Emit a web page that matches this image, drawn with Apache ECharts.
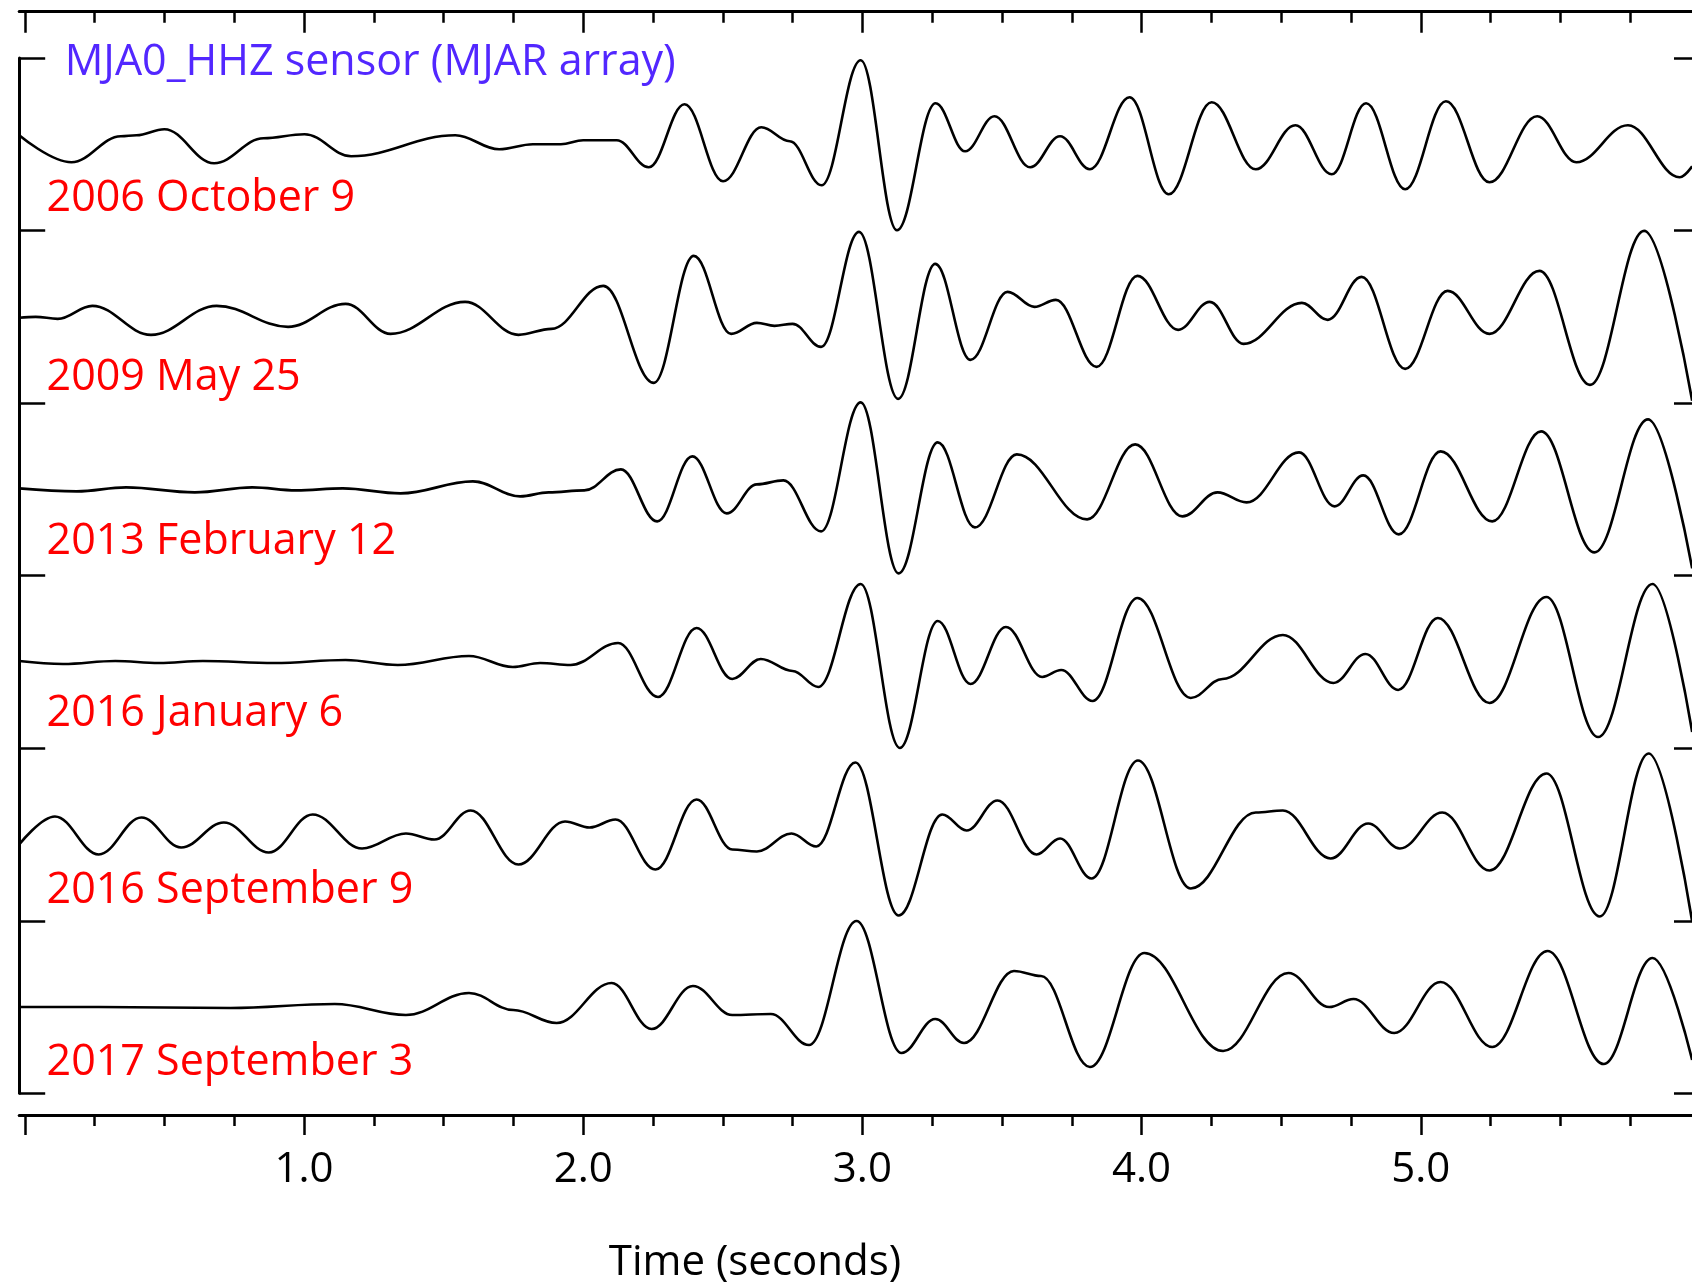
<!DOCTYPE html>
<html>
<head>
<meta charset="utf-8">
<script src="https://cdn.jsdelivr.net/npm/echarts@6/dist/echarts.min.js"></script>
<style>
html,body{margin:0;padding:0;background:#fff;}
#chart{width:1692px;height:1283px;}
</style>
</head>
<body>
<div id="chart"></div>
<script>
// ---------------- DATA ----------------
const titleText = 'MJA0_HHZ sensor (MJAR array)';
const traceLabels = ['2006 October 9','2009 May 25','2013 February 12','2016 January 6','2016 September 9','2017 September 3'];
const axisTitle = 'Time (seconds)';
const xLabelValues = [1, 2, 3, 4, 5];
const majorTickValues = [0, 1, 2, 3, 4, 5];
const minorTickValues = [0.25,0.5,0.75,1.25,1.5,1.75,2.25,2.5,2.75,3.25,3.5,3.75,4.25,4.5,4.75,5.25,5.5,5.75];

// time (s) and amplitude (counts) of each waveform's turning points
const t2006 = [-0.02,0.167,0.344,0.40,0.50,0.678,0.855,1.002,1.169,1.542,1.699,1.82,1.92,2.0,2.12,2.235,2.363,2.501,2.638,2.74,2.854,2.994,3.124,3.262,3.368,3.473,3.601,3.708,3.815,3.957,4.097,4.251,4.409,4.551,4.681,4.804,4.944,5.090,5.246,5.417,5.557,5.742,5.927,5.972];
const a2006 = [9,-18,8,9,15,-19,6,10,-12,9,-5,0,0,4,4,-23,40,-37,17,3,-41,84,-86,41,-7,28,-23,8,-25,47,-50,42,-25,19,-30,41,-45,43,-38,28,-18,19,-33,-22];

const t2009 = [-0.02,0.039,0.118,0.242,0.452,0.687,0.943,1.149,1.310,1.577,1.768,1.886,2.072,2.253,2.396,2.530,2.622,2.685,2.750,2.852,2.988,3.128,3.261,3.387,3.520,3.616,3.693,3.839,3.985,4.131,4.244,4.365,4.574,4.667,4.788,4.944,5.096,5.246,5.425,5.606,5.800,5.972];
const a2009 = [-1,0,-2,11,-18,11,-10,13,-17,15,-18,-12,31,-66,61,-17,-6,-9,-7,-30,85,-82,53,-43,25,10,17,-50,41,-13,15,-27,14,-3,40,-52,26,-17,46,-68,86,-84];

const t2013 = [-0.02,0.186,0.363,0.609,0.815,0.972,1.139,1.346,1.605,1.774,1.876,2.004,2.135,2.265,2.391,2.514,2.622,2.717,2.852,2.994,3.130,3.270,3.403,3.553,3.805,3.977,4.146,4.272,4.376,4.564,4.691,4.794,4.921,5.071,5.256,5.431,5.622,5.814,5.972];
const a2013 = [1,-2,2,-3,2,-1,1,-4,8,-7,-3,-1,20,-32,33,-24,5,9,-42,87,-84,47,-38,35,-30,45,-27,-3,-13,37,-17,14,-45,38,-32,58,-63,70,-79];

const t2016a = [-0.02,0.137,0.324,0.481,0.638,0.894,1.149,1.336,1.591,1.748,1.846,1.955,2.125,2.268,2.406,2.534,2.636,2.75,2.842,2.994,3.134,3.270,3.387,3.514,3.644,3.712,3.825,3.985,4.176,4.29,4.506,4.687,4.802,4.919,5.061,5.246,5.450,5.635,5.830,5.972];
const a2016a = [1,-2,1,-1,1,-1,2,-3,6,-5,-1,-3,19,-35,34,-17,3,-9,-25,78,-86,41,-22,35,-15,-8,-39,64,-36,-17,27,-21,8,-28,44,-41,65,-75,78,-70];

const t2016b = [-0.02,0.108,0.265,0.418,0.560,0.713,0.874,1.031,1.208,1.365,1.467,1.597,1.768,1.935,2.023,2.116,2.259,2.406,2.534,2.622,2.746,2.835,2.975,3.130,3.286,3.373,3.484,3.624,3.708,3.821,3.987,4.176,4.409,4.506,4.677,4.812,4.925,5.077,5.246,5.450,5.641,5.816,5.972];
const a2016b = [-10,18,-20,17,-13,12,-18,20,-14,1,-5,24,-30,13,7,15,-35,35,-15,-17,1,-12,72,-81,20,4,34,-20,-4,-44,74,-54,22,24,-24,11,-14,22,-36,61,-82,81,-87];

const t2017 = [-0.02,0.265,0.737,1.110,1.365,1.591,1.75,1.905,2.102,2.245,2.393,2.534,2.672,2.809,2.979,3.140,3.261,3.364,3.543,3.640,3.815,4.010,4.292,4.526,4.672,4.759,4.905,5.071,5.256,5.454,5.655,5.830,5.972];
const a2017 = [0,0,-1,3,-8,14,-3,-16,24,-22,21,-8,-7,-38,86,-46,-12,-36,36,31,-60,54,-44,34,0,8,-26,25,-40,56,-57,49,-53];

// ---------------- CHART ----------------
const times = [t2006, t2009, t2013, t2016a, t2016b, t2017];
const amps = [a2006, a2009, a2013, a2016a, a2016b, a2017];
const gain = 1 / 172.55;           // counts -> trace spacing units
const X_MIN = -0.02, X_MAX = 5.9714;
const FONT = '"Open Sans", "Noto Sans", sans-serif';
const black = '#000';

const series = times.map((ts, i) => ({
  type: 'line',
  xAxisIndex: 4,
  yAxisIndex: 1,
  data: ts.map((t, j) => [t, (5.5 - i) + amps[i][j] * gain]),
  smooth: 0.38,
  smoothMonotone: 'x',
  showSymbol: false,
  symbol: 'none',
  clip: false,
  silent: true,
  lineStyle: { color: black, width: 2.6 }
}));

const labelYs = [198.3, 377.6, 541.9, 713.6, 890.9, 1062.6];
const graphics = [
  { type: 'text', x: 64.7, y: 63, silent: true,
    style: { text: titleText, fill: '#5227ff', font: '43px ' + FONT,
             align: 'left', verticalAlign: 'middle', textAlign: 'left', textVerticalAlign: 'middle' } },
  { type: 'text', x: 608.8, y: 1263, silent: true,
    style: { text: axisTitle, fill: black, font: '42px ' + FONT,
             align: 'left', verticalAlign: 'middle', textAlign: 'left', textVerticalAlign: 'middle' } }
].concat(traceLabels.map((lab, i) => ({
  type: 'text', x: 46.6, y: labelYs[i], silent: true,
  style: { text: lab, fill: '#ff0000', font: '43px ' + FONT,
           align: 'left', verticalAlign: 'middle', textAlign: 'left', textVerticalAlign: 'middle' }
})));

const tickStyle = { color: black, width: 2.5 };
const option = {
  animation: false,
  backgroundColor: '#fff',
  grid: [
    { left: 19.2, right: 0, top: 11.7, bottom: 168 },
    { left: 19.2, right: 0, top: 58, bottom: 189.7 }
  ],
  xAxis: [
    { gridIndex: 0, type: 'value', position: 'bottom', min: X_MIN, max: X_MAX,
      axisLine: { show: true, onZero: false, lineStyle: { color: black, width: 3 } },
      axisTick: { show: true, inside: false, length: 20, customValues: majorTickValues, lineStyle: tickStyle },
      axisLabel: { show: true, customValues: xLabelValues, formatter: v => Number(v).toFixed(1),
                   margin: 34, fontSize: 42, fontFamily: FONT, color: black },
      splitLine: { show: false } },
    { gridIndex: 0, type: 'value', position: 'bottom', min: X_MIN, max: X_MAX,
      axisLine: { show: false, onZero: false },
      axisTick: { show: true, inside: false, length: 11, customValues: minorTickValues, lineStyle: tickStyle },
      axisLabel: { show: false }, splitLine: { show: false } },
    { gridIndex: 0, type: 'value', position: 'top', min: X_MIN, max: X_MAX,
      axisLine: { show: true, onZero: false, lineStyle: { color: black, width: 3 } },
      axisTick: { show: true, inside: true, length: 21, customValues: majorTickValues, lineStyle: tickStyle },
      axisLabel: { show: false }, splitLine: { show: false } },
    { gridIndex: 0, type: 'value', position: 'top', min: X_MIN, max: X_MAX,
      axisLine: { show: false, onZero: false },
      axisTick: { show: true, inside: true, length: 11, customValues: minorTickValues, lineStyle: tickStyle },
      axisLabel: { show: false }, splitLine: { show: false } },
    { gridIndex: 1, type: 'value', min: X_MIN, max: X_MAX, show: false }
  ],
  yAxis: [
    { gridIndex: 0, type: 'value', min: 0, max: 1, show: false },
    { gridIndex: 1, type: 'value', position: 'left', min: 0, max: 6, interval: 1,
      axisLine: { show: true, onZero: false, lineStyle: { color: black, width: 3 } },
      axisTick: { show: true, inside: true, length: 26, lineStyle: tickStyle },
      axisLabel: { show: false }, splitLine: { show: false } },
    { gridIndex: 1, type: 'value', position: 'right', offset: 8, min: 0, max: 6, interval: 1,
      axisLine: { show: true, onZero: false, lineStyle: { color: black, width: 3 } },
      axisTick: { show: true, inside: true, length: 26, lineStyle: tickStyle },
      axisLabel: { show: false }, splitLine: { show: false } }
  ],
  graphic: graphics,
  series: series
};

const chart = echarts.init(document.getElementById('chart'), null, { renderer: 'canvas', width: 1692, height: 1283 });
chart.setOption(option);
</script>
</body>
</html>
